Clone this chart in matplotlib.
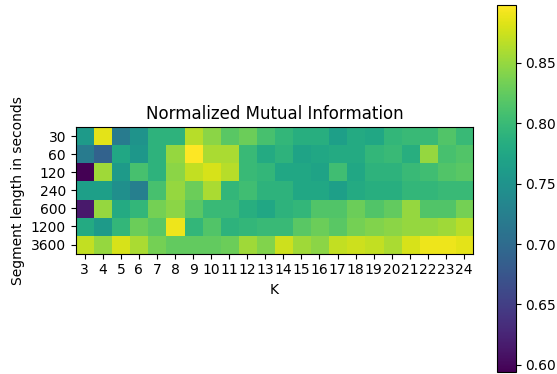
import numpy as np
import matplotlib.pyplot as plt

ks = list(range(3, 25))
segments = ["30", "60", "120", "240", "600", "1200", "3600"]

nmi_30 = [0.760, 0.885, 0.720, 0.750, 0.790, 0.790, 0.865, 0.845, 0.820, 0.830, 0.810,
          0.795, 0.785, 0.785, 0.765, 0.780, 0.775, 0.795, 0.800, 0.800, 0.815, 0.800]
nmi_60 = [0.720, 0.690, 0.775, 0.755, 0.790, 0.850, 0.898, 0.860, 0.860, 0.800, 0.780,
          0.790, 0.770, 0.775, 0.780, 0.780, 0.795, 0.800, 0.785, 0.850, 0.810, 0.815]
nmi_120 = [0.594, 0.855, 0.760, 0.810, 0.790, 0.845, 0.870, 0.880, 0.865, 0.800, 0.795,
           0.775, 0.775, 0.770, 0.805, 0.775, 0.790, 0.790, 0.800, 0.805, 0.815, 0.820]
nmi_240 = [0.765, 0.765, 0.745, 0.725, 0.810, 0.850, 0.830, 0.860, 0.795, 0.805, 0.790,
           0.790, 0.775, 0.775, 0.765, 0.780, 0.785, 0.785, 0.795, 0.795, 0.800, 0.800]
nmi_600 = [0.615, 0.850, 0.780, 0.795, 0.835, 0.845, 0.820, 0.800, 0.800, 0.785, 0.775,
           0.790, 0.795, 0.815, 0.815, 0.830, 0.815, 0.825, 0.850, 0.815, 0.815, 0.835]
nmi_1200 = [0.780, 0.760, 0.795, 0.830, 0.820, 0.890, 0.795, 0.815, 0.790, 0.795, 0.800,
            0.800, 0.820, 0.830, 0.820, 0.835, 0.840, 0.845, 0.850, 0.850, 0.855, 0.865]
nmi_3600 = [0.870, 0.850, 0.880, 0.860, 0.835, 0.825, 0.825, 0.825, 0.830, 0.855, 0.840,
            0.875, 0.855, 0.845, 0.870, 0.875, 0.870, 0.860, 0.880, 0.890, 0.890, 0.885]

nmi = np.array([nmi_30, nmi_60, nmi_120, nmi_240, nmi_600, nmi_1200, nmi_3600])

fig = plt.figure(figsize=(5.57, 3.74), dpi=100)
ax = fig.add_axes([0.136, 0.321, 0.713, 0.340])
cax = fig.add_axes([0.892, 0.005, 0.034, 0.982])

im = ax.imshow(nmi, cmap="viridis", aspect="equal")
ax.set_xticks(range(len(ks)))
ax.set_xticklabels(ks)
ax.set_yticks(range(len(segments)))
ax.set_yticklabels(segments)
ax.set_xlabel("K")
ax.set_ylabel("Segment length in seconds")
ax.set_title("Normalized Mutual Information")

fig.colorbar(im, cax=cax)
fig.savefig("out.png", dpi=100)
